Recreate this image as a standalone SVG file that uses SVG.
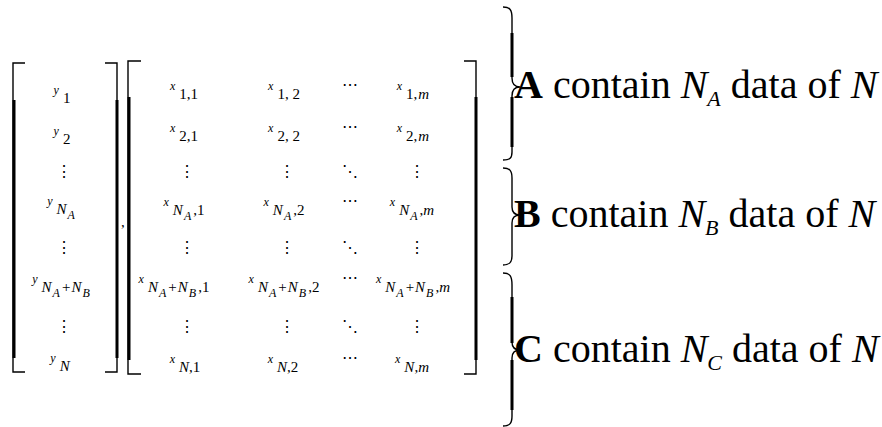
<svg xmlns="http://www.w3.org/2000/svg" width="882" height="427" viewBox="0 0 882 427">
<style>
text{font-family:"Liberation Serif","DejaVu Serif",serif;fill:#000}
.c{text-anchor:middle}
.b{font-size:12px;font-style:italic}
.s{font-size:15px}
.si{font-size:15px;font-style:italic}
.ss{font-size:12px;font-style:italic}
.d{font-size:16px;font-family:"DejaVu Serif",serif}
.thin{stroke:#000;stroke-width:1.4;fill:none}
.thick{stroke:#000;stroke-width:3;fill:none}
.big{font-size:40px}
.bold{font-weight:bold}
.it{font-style:italic}
.sm{font-size:22px;font-style:italic}
</style>
<rect width="882" height="427" fill="#fff"/>
<g id="vector-brackets">
<path class="thin" d="M25,63 H13 V372 H25"/>
<line class="thick" x1="14" y1="100" x2="14" y2="358"/>
<path class="thin" d="M105,63 H117 V372 H105"/>
<line class="thick" x1="117" y1="100" x2="117" y2="358"/>
</g>
<g id="vector">
<text class="c" x="62" y="94"><tspan class="b">y</tspan><tspan class="s" dx="4" dy="9">1</tspan></text>
<text class="c" x="62" y="135"><tspan class="b">y</tspan><tspan class="s" dx="4" dy="9">2</tspan></text>
<text class="c d" x="64" y="177">⋮</text>
<text class="c" x="61" y="205"><tspan class="b">y</tspan><tspan class="si" dx="4" dy="9">N</tspan><tspan class="ss" dx="1" dy="5">A</tspan></text>
<text class="c d" x="64" y="253">⋮</text>
<text class="c" x="61" y="283"><tspan class="b">y</tspan><tspan class="si" dx="4" dy="9">N</tspan><tspan class="ss" dx="1" dy="5">A</tspan><tspan class="s" dx="2" dy="-5">+</tspan><tspan class="si" dx="1">N</tspan><tspan class="ss" dx="1" dy="5">B</tspan></text>
<text class="c d" x="64" y="332">⋮</text>
<text class="c" x="60" y="362"><tspan class="b">y</tspan><tspan class="si" dx="4" dy="9">N</tspan></text>
</g>
<text id="comma" x="121" y="227" class="s">,</text>
<g id="matrix-brackets">
<path class="thin" d="M141,61 H128 V374 H141"/>
<line class="thick" x1="129" y1="97" x2="129" y2="360"/>
<path class="thin" d="M464,61 H476 V374 H464"/>
<line class="thick" x1="476" y1="97" x2="476" y2="360"/>
</g>
<g id="matrix">
<text class="c" x="184" y="90"><tspan class="b">x</tspan><tspan class="s" dx="4" dy="9">1,1</tspan></text>
<text class="c" x="284" y="90"><tspan class="b">x</tspan><tspan class="s" dx="4" dy="9">1, 2</tspan></text>
<text class="c d" x="350" y="90">⋯</text>
<text class="c" x="413" y="90"><tspan class="b">x</tspan><tspan class="s" dx="4" dy="9">1,</tspan><tspan class="si" dx="1">m</tspan></text>

<text class="c" x="184" y="132"><tspan class="b">x</tspan><tspan class="s" dx="4" dy="9">2,1</tspan></text>
<text class="c" x="284" y="132"><tspan class="b">x</tspan><tspan class="s" dx="4" dy="9">2, 2</tspan></text>
<text class="c d" x="350" y="132">⋯</text>
<text class="c" x="413" y="132"><tspan class="b">x</tspan><tspan class="s" dx="4" dy="9">2,</tspan><tspan class="si" dx="1">m</tspan></text>

<text class="c d" x="187" y="177">⋮</text>
<text class="c d" x="287" y="177">⋮</text>
<text class="c d" x="350" y="177">⋱</text>
<text class="c d" x="417" y="177">⋮</text>

<text class="c" x="184" y="206"><tspan class="b">x</tspan><tspan class="si" dx="4" dy="9">N</tspan><tspan class="ss" dx="1" dy="5">A</tspan><tspan class="s" dx="2" dy="-5">,1</tspan></text>
<text class="c" x="284" y="206"><tspan class="b">x</tspan><tspan class="si" dx="4" dy="9">N</tspan><tspan class="ss" dx="1" dy="5">A</tspan><tspan class="s" dx="2" dy="-5">,2</tspan></text>
<text class="c d" x="350" y="206">⋯</text>
<text class="c" x="412" y="206"><tspan class="b">x</tspan><tspan class="si" dx="4" dy="9">N</tspan><tspan class="ss" dx="1" dy="5">A</tspan><tspan class="s" dx="2" dy="-5">,</tspan><tspan class="si">m</tspan></text>

<text class="c d" x="187" y="253">⋮</text>
<text class="c d" x="287" y="253">⋮</text>
<text class="c d" x="350" y="253">⋱</text>
<text class="c d" x="417" y="253">⋮</text>

<text class="c" x="174" y="283"><tspan class="b">x</tspan><tspan class="si" dx="4" dy="9">N</tspan><tspan class="ss" dx="1" dy="5">A</tspan><tspan class="s" dx="2" dy="-5">+</tspan><tspan class="si" dx="1">N</tspan><tspan class="ss" dx="1" dy="5">B</tspan><tspan class="s" dx="2" dy="-5">,1</tspan></text>
<text class="c" x="284" y="283"><tspan class="b">x</tspan><tspan class="si" dx="4" dy="9">N</tspan><tspan class="ss" dx="1" dy="5">A</tspan><tspan class="s" dx="2" dy="-5">+</tspan><tspan class="si" dx="1">N</tspan><tspan class="ss" dx="1" dy="5">B</tspan><tspan class="s" dx="2" dy="-5">,2</tspan></text>
<text class="c d" x="350" y="283">⋯</text>
<text class="c" x="413" y="283"><tspan class="b">x</tspan><tspan class="si" dx="4" dy="9">N</tspan><tspan class="ss" dx="1" dy="5">A</tspan><tspan class="s" dx="2" dy="-5">+</tspan><tspan class="si" dx="1">N</tspan><tspan class="ss" dx="1" dy="5">B</tspan><tspan class="s" dx="2" dy="-5">,</tspan><tspan class="si">m</tspan></text>

<text class="c d" x="187" y="332">⋮</text>
<text class="c d" x="287" y="332">⋮</text>
<text class="c d" x="350" y="332">⋱</text>
<text class="c d" x="417" y="332">⋮</text>

<text class="c" x="185" y="363"><tspan class="b">x</tspan><tspan class="si" dx="4" dy="9">N</tspan><tspan class="s">,1</tspan></text>
<text class="c" x="283" y="363"><tspan class="b">x</tspan><tspan class="si" dx="4" dy="9">N</tspan><tspan class="s">,2</tspan></text>
<text class="c d" x="350" y="363">⋯</text>
<text class="c" x="412" y="363"><tspan class="b">x</tspan><tspan class="si" dx="4" dy="9">N</tspan><tspan class="s">,</tspan><tspan class="si">m</tspan></text>
</g>
<g id="brace-A">
<path class="thin" d="M503,7 C510,7 512,10 512,18 L512,78 C512,84 514,87 520,87 C514,87 512,90 512,96 L512,152 C512,158 510,160 503,160"/>
<line class="thick" x1="512" y1="33" x2="512" y2="77"/>
<line class="thick" x1="512" y1="97" x2="512" y2="147"/>
<text class="big" x="514" y="98"><tspan class="bold">A</tspan> contain <tspan class="it">N</tspan><tspan class="sm" dy="8">A</tspan><tspan dy="-8"> data of </tspan><tspan class="it">N</tspan></text>
</g>
<g id="brace-B">
<path class="thin" d="M503,168 C510,168 512,171 512,178 L512,207 C512,212 514,215 520,215 C514,215 512,218 512,223 L512,256 C512,262 510,265 503,265"/>
<text class="big" x="514" y="227"><tspan class="bold">B</tspan> contain <tspan class="it">N</tspan><tspan class="sm" dy="8">B</tspan><tspan dy="-8"> data of </tspan><tspan class="it">N</tspan></text>
</g>
<g id="brace-C">
<path class="thin" d="M503,273 C510,273 512,276 512,285 L512,342 C512,347 514,350 520,350 C514,350 512,353 512,358 L512,416 C512,423 510,426 503,426"/>
<line class="thick" x1="512" y1="297" x2="512" y2="343"/>
<line class="thick" x1="512" y1="360" x2="512" y2="410"/>
<text class="big" x="514" y="362"><tspan class="bold">C</tspan> contain <tspan class="it">N</tspan><tspan class="sm" dy="8">C</tspan><tspan dy="-8"> data of </tspan><tspan class="it">N</tspan></text>
</g>
</svg>
